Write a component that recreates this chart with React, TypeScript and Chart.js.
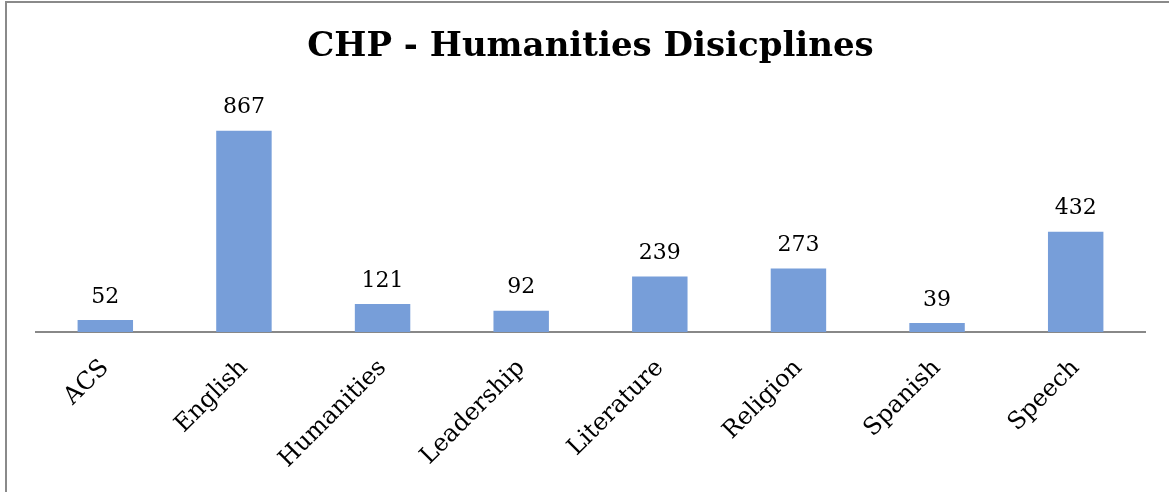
import React, { useEffect, useRef } from "react";
import { Chart, registerables } from "chart.js";

Chart.register(...registerables);

const categories = ["ACS", "English", "Humanities", "Leadership", "Literature", "Religion", "Spanish", "Speech"];
const values = [52, 867, 121, 92, 239, 273, 39, 432];
const titleText = "CHP - Humanities Disicplines";

const FONT = "'DejaVu Serif', serif";

const valueLabels = {
  id: "valueLabels",
  afterDatasetsDraw(chart: any) {
    const ctx = chart.ctx;
    const meta = chart.getDatasetMeta(0);
    ctx.save();
    ctx.font = `22px ${FONT}`;
    ctx.fillStyle = "#000";
    ctx.textAlign = "center";
    ctx.textBaseline = "bottom";
    meta.data.forEach((bar: any, i: number) => {
      ctx.fillText(String(values[i]), bar.x, bar.y - 12);
    });
    ctx.restore();
  },
};

export default function App() {
  const ref = useRef<HTMLCanvasElement>(null);
  useEffect(() => {
    document.body.style.margin = "0";
    const chart = new Chart(ref.current!, {
      type: "bar",
      data: {
        labels: categories,
        datasets: [
          {
            data: values,
            backgroundColor: "#779ed9",
            borderWidth: 0,
            barPercentage: 0.4,
            categoryPercentage: 1,
          },
        ],
      },
      options: {
        animation: false,
        responsive: false,
        maintainAspectRatio: false,
        layout: { padding: { left: 36, right: 24, top: 0, bottom: 0 } },
        plugins: {
          legend: { display: false },
          tooltip: { enabled: false },
          title: {
            display: true,
            text: titleText,
            color: "#000",
            font: { family: FONT, size: 34, weight: "bold", lineHeight: 1.2 },
            padding: { top: 27, bottom: 32 },
          },
        },
        scales: {
          x: {
            grid: { display: false, drawTicks: false },
            border: { display: true, color: "#888", width: 2 },
            afterFit: (scale: any) => {
              scale.height = 160;
            },
            ticks: {
              color: "#000",
              font: { family: FONT, size: 24 },
              minRotation: 45,
              maxRotation: 45,
              padding: 22,
            },
          },
          y: {
            display: false,
            min: 0,
            max: 1000,
          },
        },
      },
      plugins: [valueLabels],
    });
    return () => chart.destroy();
  }, []);
  return (
    <div style={{ position: "relative", width: 1169, height: 492, overflow: "hidden", background: "#fff" }}>
      <div
        style={{
          position: "absolute",
          left: 5,
          top: 1,
          width: 1200,
          height: 600,
          borderLeft: "2px solid #8a8a8a",
          borderTop: "2px solid #8a8a8a",
        }}
      />
      <canvas ref={ref} width={1169} height={492} style={{ position: "absolute", left: 0, top: 0 }} />
    </div>
  );
}
